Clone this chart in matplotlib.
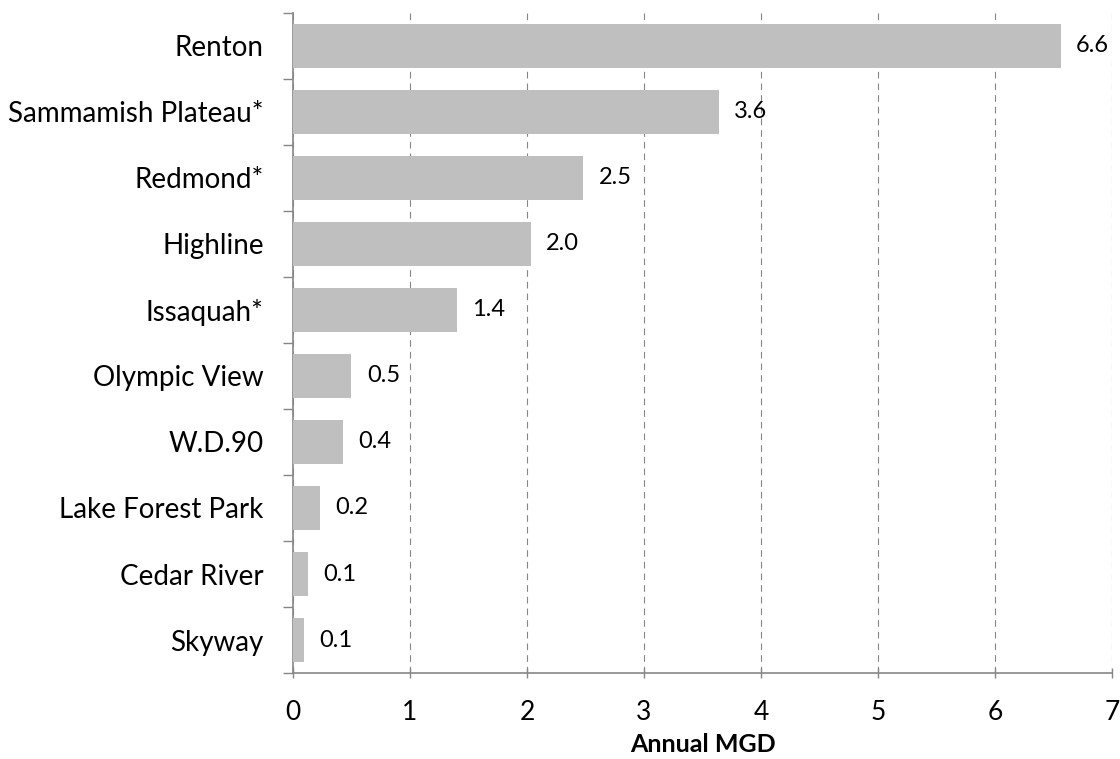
import matplotlib
matplotlib.use("Agg")
import matplotlib.pyplot as plt

# data, top to bottom as shown
utilities = ["Renton", "Sammamish Plateau*", "Redmond*", "Highline", "Issaquah*",
             "Olympic View", "W.D.90", "Lake Forest Park", "Cedar River", "Skyway"]
mgd = [6.56, 3.64, 2.48, 2.03, 1.40, 0.50, 0.43, 0.23, 0.13, 0.09]

plt.rcParams['font.family'] = ['Lato', 'DejaVu Sans']

fig = plt.figure(figsize=(11.2, 7.59), dpi=100)
ax = fig.add_axes([0.2616, 0.1133, 0.9929 - 0.2616, 0.9829 - 0.1133])

pos = list(range(len(utilities)))
ax.barh(pos, mgd, height=0.67, color='#BFBFBF', zorder=3)

for p, v in zip(pos, mgd):
	ax.annotate("{:.1f}".format(v), (v, p), xytext=(11, 0), textcoords='offset points',
		ha='left', va='center', fontsize=17, color='black', zorder=4)

ax.set_ylim(len(utilities) - 0.5, -0.5)
ax.set_xlim(0, 7)
ax.set_xticks(range(0, 8))
ax.set_yticks([p - 0.5 for p in pos] + [len(utilities) - 0.5], minor=True)
ax.set_yticks(pos)
ax.set_yticklabels(utilities, fontsize=20)
ax.tick_params(axis='y', which='major', length=0, pad=21)
ax.tick_params(axis='y', which='minor', length=7, width=1, color='#868686', direction='out')
ax.tick_params(axis='x', length=7, width=1, color='#868686', direction='inout', labelsize=19, pad=16)

ax.xaxis.grid(True, color='#868686', linewidth=0.8, dashes=(6, 4.5), zorder=0)
ax.set_axisbelow(True)

for s in ['top', 'right']:
	ax.spines[s].set_visible(False)
for s in ['left', 'bottom']:
	ax.spines[s].set_color('#868686')
	ax.spines[s].set_linewidth(1.2)

ax.set_xlabel('Annual MGD', fontsize=18, fontweight='bold', labelpad=6)

plt.savefig('out.png', dpi=100)
